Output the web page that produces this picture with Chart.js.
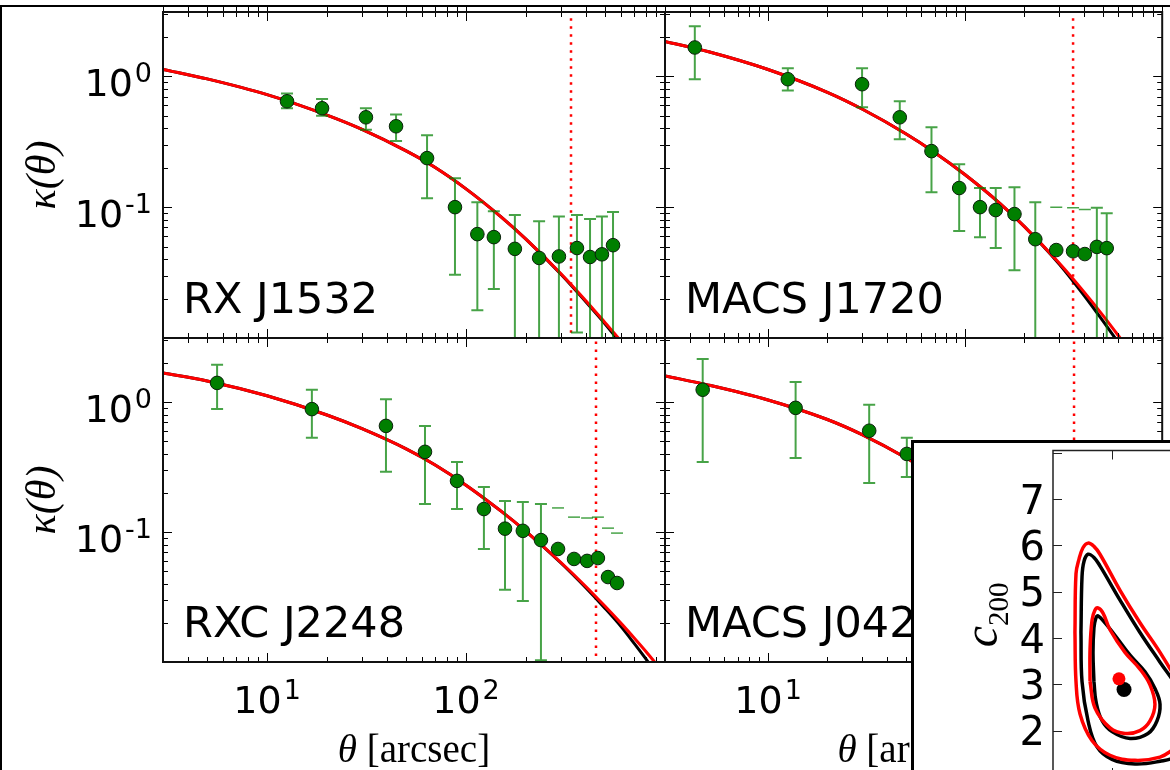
<!DOCTYPE html>
<html>
<head>
<meta charset="utf-8">
<script src="https://cdn.jsdelivr.net/npm/chart.js@4.4.0/dist/chart.umd.min.js"></script>
<style>
  html, body { margin: 0; padding: 0; background: #fff; width: 1170px; height: 770px; overflow: hidden; }
  #frame { position: absolute; left: 0; top: 5px; width: 1300px; height: 900px; border-top: 2px solid #000; border-left: 2px solid #000; }
  canvas { position: absolute; left: 0; top: 0; }
  #insetBox { position: absolute; left: 911px; top: 440px; width: 500px; height: 500px; background: #fff; border: 3px solid #000; }
  #inset { left: 914px; top: 443px; }
</style>
</head>
<body>
<div id="frame"></div>
<canvas id="rx1532" width="1170" height="770"></canvas>
<canvas id="macs1720" width="1170" height="770"></canvas>
<canvas id="rxc2248" width="1170" height="770"></canvas>
<canvas id="macs0429" width="1170" height="770"></canvas>
<div id="insetBox"></div>
<canvas id="inset" width="400" height="400"></canvas>
<script>
// kappa profiles: data points, upper / lower error, model curves (black & red), dotted radius
const modelTheta = [3, 5, 10, 20, 30, 50, 70, 100, 150, 200, 300, 400, 500, 600, 700, 800, 1000];

// RX J1532
const thetaRX1532   = [12.6, 18.9, 31.4, 44.5, 63.7, 88.0, 114, 138, 176, 233, 293, 361, 420, 482, 548];
const kappaRX1532   = [0.644, 0.57, 0.486, 0.415, 0.237, 0.100, 0.0622, 0.059, 0.048, 0.0409, 0.042, 0.0487, 0.0416, 0.0436, 0.0512];
const kappaHiRX1532 = [0.74, 0.67, 0.57, 0.51, 0.355, 0.166, 0.109, 0.093, 0.087, 0.078, 0.085, 0.087, 0.081, 0.085, 0.092];
const kappaLoRX1532 = [0.57, 0.50, 0.39, 0.32, 0.117, 0.0304, 0.0163, 0.0237, 0.001, 0.001, 0.001, 0.011, 0.001, 0.001, 0.001];
const modelRedRX1532   = [1.13, 0.955, 0.724, 0.505, 0.393, 0.269, 0.201, 0.138, 0.0842, 0.0569, 0.0310, 0.0193, 0.0131, 0.0095, 0.0071, 0.0054, 0.0035];
const modelBlackRX1532 = [1.13, 0.955, 0.724, 0.505, 0.393, 0.269, 0.201, 0.138, 0.0842, 0.0569, 0.0307, 0.0189, 0.0128, 0.0091, 0.0068, 0.0052, 0.0033];
const radiusRX1532 = 337;

// MACS J1720
const thetaMACS1720   = [4.25, 12.6, 30.0, 46.6, 67.5, 93.3, 119, 143, 178, 227, 290, 353, 405, 466, 523];
const kappaMACS1720   = [1.66, 0.95, 0.87, 0.486, 0.268, 0.140, 0.100, 0.095, 0.0885, 0.0569, 0.047, 0.046, 0.0438, 0.0497, 0.0486];
const kappaHiMACS1720 = [2.41, 1.15, 1.15, 0.645, 0.408, 0.213, 0.140, 0.140, 0.142, 0.109, 0.100, 0.099, 0.096, 0.099, 0.090];
const kappaLoMACS1720 = [0.95, 0.78, 0.58, 0.33, 0.13, 0.0658, 0.059, 0.0487, 0.033, 0.001, null, null, null, 0.001, 0.001];
const modelRedMACS1720   = [1.85, 1.54, 1.127, 0.754, 0.562, 0.364, 0.262, 0.177, 0.107, 0.071, 0.0374, 0.0226, 0.0149, 0.0104, 0.0076, 0.0058, 0.0036];
const modelBlackMACS1720 = [1.85, 1.54, 1.127, 0.754, 0.562, 0.364, 0.262, 0.177, 0.107, 0.071, 0.0368, 0.0213, 0.0135, 0.0092, 0.0066, 0.0049, 0.0030];
const radiusMACS1720 = 353;

// RXC J2248
const thetaRXC2248   = [5.61, 16.8, 39.6, 62.2, 90.1, 123, 157, 193, 238, 290, 349, 406, 460, 517, 574];
const kappaRXC2248   = [1.40, 0.88, 0.654, 0.413, 0.247, 0.150, 0.106, 0.102, 0.0866, 0.074, 0.062, 0.0599, 0.063, 0.045, 0.0405];
const kappaHiRXC2248 = [1.93, 1.24, 1.05, 0.654, 0.345, 0.222, 0.173, 0.170, 0.164, 0.153, 0.130, 0.128, 0.130, 0.107, 0.098];
const kappaLoRXC2248 = [0.88, 0.53, 0.29, 0.164, 0.150, 0.074, 0.036, 0.0295, 0.0103, null, null, null, null, null, null];
const modelRedRXC2248   = [1.67, 1.449, 1.114, 0.793, 0.622, 0.435, 0.327, 0.229, 0.1445, 0.101, 0.0582, 0.0381, 0.0268, 0.0199, 0.0153, 0.0121, 0.0080];
const modelBlackRXC2248 = [1.67, 1.449, 1.114, 0.793, 0.622, 0.435, 0.327, 0.229, 0.1445, 0.101, 0.0577, 0.0372, 0.0258, 0.0188, 0.0139, 0.0106, 0.0066];
const radiusRXC2248 = 450;

// MACS J0429 (mostly behind the inset)
const thetaMACS0429   = [4.66, 13.8, 32.6, 50.6];
const kappaMACS0429   = [1.24, 0.90, 0.60, 0.398];
const kappaHiMACS0429 = [2.14, 1.42, 0.95, 0.53];
const kappaLoMACS0429 = [0.345, 0.37, 0.238, 0.265];
const modelThetaMACS0429 = [3, 5, 10, 20, 30, 50, 70];
const modelRedMACS0429   = [1.585, 1.346, 1.035, 0.732, 0.560, 0.372, 0.272];
const modelBlackMACS0429 = [1.585, 1.346, 1.035, 0.732, 0.560, 0.372, 0.272];
const radiusMACS0429 = 357;

// axis ticks
const decadesX = [10, 100];
const decadesY = [0.1, 1];
const cTicks = [2, 3, 4, 5, 6, 7];

// inset: confidence contours in (M, c200), black and red fits
const outerRed = [[0.686, 4.12], [0.695, 5.39], [0.72, 5.70], [0.754, 5.95], [0.797, 6.05], [0.847, 5.98], [0.898, 5.81],
  [1.068, 5.03], [1.237, 4.33], [1.407, 3.69], [1.59, 2.90], [1.70, 2.30], [1.68, 1.85], [1.534, 1.62], [1.407, 1.43],
  [1.195, 1.36], [0.983, 1.47], [0.83, 1.79], [0.729, 2.36], [0.695, 3.06], [0.686, 4.12]];
const outerBlack = [[0.737, 4.12], [0.746, 5.33], [0.763, 5.66], [0.797, 5.81], [0.847, 5.74], [0.898, 5.56],
  [1.068, 4.82], [1.237, 4.12], [1.407, 3.48], [1.55, 2.95], [1.68, 2.30], [1.70, 1.80], [1.55, 1.45], [1.407, 1.34],
  [1.195, 1.28], [1.0, 1.38], [0.873, 1.65], [0.797, 2.21], [0.746, 3.06], [0.737, 4.12]];
const innerRed = [[0.814, 3.06], [0.814, 3.76], [0.831, 4.39], [0.855, 4.60], [0.881, 4.65], [0.924, 4.54], [0.983, 4.18],
  [1.11, 3.69], [1.237, 3.33], [1.322, 2.99], [1.364, 2.57], [1.322, 2.21], [1.237, 2.00], [1.11, 1.94], [0.983, 2.06],
  [0.856, 2.49], [0.814, 3.06]];
const innerBlack = [[0.847, 3.06], [0.839, 3.69], [0.847, 4.22], [0.862, 4.42], [0.881, 4.48], [0.941, 4.33], [1.025, 4.06],
  [1.153, 3.63], [1.28, 3.27], [1.364, 2.91], [1.407, 2.57], [1.381, 2.21], [1.305, 1.94], [1.153, 1.83], [1.0, 1.98],
  [0.915, 2.22], [0.865, 2.62], [0.847, 3.06]];
const bestRed = [1.059, 3.12];
const bestBlack = [1.102, 2.89];

const RED = '#ff0000';
const GREEN = '#007f00';
const ERR_GREEN = 'rgba(0, 128, 0, 0.72)';
const SANS = '"DejaVu Sans"';
const SERIF = '"Liberation Serif"';

Chart.defaults.animation = false;
Chart.defaults.responsive = false;
Chart.defaults.devicePixelRatio = 1;
Chart.defaults.events = [];
Chart.defaults.plugins.legend.display = false;
Chart.defaults.plugins.tooltip.enabled = false;

const zip = (xs, ys) => xs.map((x, i) => ({ x, y: ys[i] }));

function logTicks(min, max) {
  const out = [];
  for (let e = Math.floor(Math.log10(min)); e <= Math.ceil(Math.log10(max)); e++) {
    for (let k = 1; k < 10; k++) {
      const v = k * Math.pow(10, e);
      if (v >= min * 0.999 && v <= max * 1.001) out.push({ v, major: k === 1 });
    }
  }
  return out;
}

// "10" with a raised exponent
function powerLabel(ctx, exp, x, y, align) {
  ctx.font = '38px ' + SANS;
  const wb = ctx.measureText('10').width;
  ctx.font = '27px ' + SANS;
  const we = ctx.measureText(exp).width;
  const total = wb + 2 + we;
  const x0 = align === 'right' ? x - total : x - total / 2;
  ctx.textAlign = 'left';
  ctx.textBaseline = 'alphabetic';
  ctx.font = '38px ' + SANS;
  ctx.fillText('10', x0, y);
  ctx.font = '27px ' + SANS;
  ctx.fillText(exp, x0 + wb + 2, y - 14);
}

// error bars under the markers; null lower value = only the upper cap
const errorBars = {
  id: 'errorBars',
  beforeDatasetDraw(chart, args) {
    const ds = chart.data.datasets[args.index];
    if (!ds.errHi) return;
    const { ctx, chartArea: a, scales: { x, y } } = chart;
    ctx.save();
    ctx.beginPath();
    ctx.rect(a.left, a.top, a.right - a.left, a.bottom - a.top);
    ctx.clip();
    ctx.strokeStyle = ERR_GREEN;
    ds.data.forEach((p, i) => {
      const px = x.getPixelForValue(p.x);
      const yHi = y.getPixelForValue(ds.errHi[i]);
      const lo = ds.errLo[i];
      ctx.beginPath();
      if (lo === null) {
        ctx.lineWidth = 1.5;
        ctx.moveTo(px - 6, yHi); ctx.lineTo(px + 6, yHi);
      } else {
        ctx.lineWidth = 2;
        const yLo = y.getPixelForValue(lo);
        ctx.moveTo(px - 6, yHi); ctx.lineTo(px + 6, yHi);
        ctx.moveTo(px, yHi); ctx.lineTo(px, yLo);
        ctx.moveTo(px - 6, yLo); ctx.lineTo(px + 6, yLo);
      }
      ctx.stroke();
    });
    ctx.restore();
  }
};
Chart.register(errorBars);

// spines, inward log ticks, tick labels, axis titles and cluster name
const panelFrame = {
  id: 'panelFrame',
  afterDraw(chart, args, o) {
    const { ctx, chartArea: a, scales: { x, y } } = chart;
    ctx.save();
    ctx.strokeStyle = '#000';
    ctx.lineWidth = 1;
    ctx.beginPath();
    logTicks(x.min, x.max).forEach(t => {
      const px = Math.round(x.getPixelForValue(t.v)) + 0.5;
      const len = t.major ? 9 : 5;
      ctx.moveTo(px, a.top); ctx.lineTo(px, a.top + len);
      ctx.moveTo(px, a.bottom); ctx.lineTo(px, a.bottom - len);
      if (o.ticksAbove) { ctx.moveTo(px, a.top); ctx.lineTo(px, a.top - 5); }
    });
    logTicks(y.min, y.max).forEach(t => {
      const py = Math.round(y.getPixelForValue(t.v)) + 0.5;
      const len = t.major ? 9 : 5;
      ctx.moveTo(a.left, py); ctx.lineTo(a.left + len, py);
      ctx.moveTo(a.right, py); ctx.lineTo(a.right - len, py);
    });
    ctx.stroke();
    ctx.lineWidth = 2;
    ctx.strokeStyle = '#111';
    ctx.strokeRect(a.left, a.top, a.right - a.left, a.bottom - a.top);

    ctx.fillStyle = '#000';
    ctx.font = '43px ' + SANS;
    ctx.textAlign = 'left';
    ctx.textBaseline = 'alphabetic';
    ctx.fillText(o.name, a.left + 20, a.bottom - 25);

    if (o.yLabels) {
      decadesY.forEach(v => {
        const py = y.getPixelForValue(v);
        powerLabel(ctx, String(Math.round(Math.log10(v))), a.left - 11, py + 20, 'right');
      });
      ctx.save();
      ctx.translate(55, (a.top + a.bottom) / 2);
      ctx.rotate(-Math.PI / 2);
      ctx.font = 'italic 42px ' + SERIF;
      ctx.textAlign = 'center';
      ctx.fillText('κ(θ)', 0, 0);
      ctx.restore();
    }
    if (o.xLabels) {
      decadesX.forEach(v => {
        const px = x.getPixelForValue(v);
        powerLabel(ctx, String(Math.round(Math.log10(v))), px, 713, 'center');
      });
      ctx.font = 'italic 39px ' + SERIF;
      const wt = ctx.measureText('θ').width;
      ctx.font = '39px ' + SERIF;
      const wr = ctx.measureText(' [arcsec]').width;
      const x0 = (a.left + a.right) / 2 - (wt + wr) / 2;
      ctx.textAlign = 'left';
      ctx.font = 'italic 39px ' + SERIF;
      ctx.fillText('θ', x0, 762);
      ctx.font = '39px ' + SERIF;
      ctx.fillText(' [arcsec]', x0 + wt, 762);
    }
    ctx.restore();
  }
};

function makePanel(id, area, p) {
  return new Chart(document.getElementById(id), {
    type: 'line',
    data: {
      datasets: [
        { data: [{ x: p.radius, y: 1e-3 }, { x: p.radius, y: 1e2 }], borderColor: RED, borderWidth: 2.5,
          borderDash: [2.5, 5.5], pointRadius: 0, order: 4 },
        { data: zip(p.modelTheta, p.black), borderColor: '#000', borderWidth: 3, pointRadius: 0,
          cubicInterpolationMode: 'monotone', order: 3 },
        { data: zip(p.modelTheta, p.red), borderColor: RED, borderWidth: 3, pointRadius: 0,
          cubicInterpolationMode: 'monotone', order: 2 },
        { data: zip(p.theta, p.kappa), showLine: false, pointRadius: 6.8, pointBackgroundColor: GREEN,
          pointBorderColor: '#0b1f0b', pointBorderWidth: 1, errHi: p.hi, errLo: p.lo, order: 1 }
      ]
    },
    options: {
      layout: { padding: { left: area[0], top: area[1], right: 1170 - area[2], bottom: 770 - area[3] } },
      scales: {
        x: { type: 'logarithmic', min: 3, max: 1000, display: false },
        y: { type: 'logarithmic', min: 0.01, max: 3.1, display: false }
      },
      plugins: { panelFrame: p.frame }
    },
    plugins: [panelFrame]
  });
}

makePanel('rx1532', [163, 12, 665, 338], {
  theta: thetaRX1532, kappa: kappaRX1532, hi: kappaHiRX1532, lo: kappaLoRX1532,
  modelTheta, red: modelRedRX1532, black: modelBlackRX1532, radius: radiusRX1532,
  frame: { name: 'RX J1532', yLabels: true, xLabels: false, ticksAbove: true }
});
makePanel('macs1720', [665, 12, 1168, 338], {
  theta: thetaMACS1720, kappa: kappaMACS1720, hi: kappaHiMACS1720, lo: kappaLoMACS1720,
  modelTheta, red: modelRedMACS1720, black: modelBlackMACS1720, radius: radiusMACS1720,
  frame: { name: 'MACS J1720', yLabels: false, xLabels: false, ticksAbove: true }
});
makePanel('rxc2248', [163, 338, 665, 662], {
  theta: thetaRXC2248, kappa: kappaRXC2248, hi: kappaHiRXC2248, lo: kappaLoRXC2248,
  modelTheta, red: modelRedRXC2248, black: modelBlackRXC2248, radius: radiusRXC2248,
  frame: { name: 'RXC J2248', yLabels: true, xLabels: true, ticksAbove: false }
});
makePanel('macs0429', [665, 338, 1168, 662], {
  theta: thetaMACS0429, kappa: kappaMACS0429, hi: kappaHiMACS0429, lo: kappaLoMACS0429,
  modelTheta: modelThetaMACS0429, red: modelRedMACS0429, black: modelBlackMACS0429, radius: radiusMACS0429,
  frame: { name: 'MACS J0429', yLabels: false, xLabels: true, ticksAbove: false }
});

// inset axes frame and c200 label
const insetFrame = {
  id: 'insetFrame',
  afterDraw(chart) {
    const { ctx, chartArea: a, scales: { x, y } } = chart;
    ctx.save();
    ctx.strokeStyle = '#222';
    ctx.lineWidth = 1.5;
    ctx.strokeRect(a.left, a.top, a.right - a.left, a.bottom - a.top);
    ctx.lineWidth = 1;
    ctx.beginPath();
    for (let c = 2; c <= 8; c++) {
      const py = Math.round(y.getPixelForValue(c)) + 0.5;
      ctx.moveTo(a.left, py); ctx.lineTo(a.left + 9, py);
    }
    [1.0, 1.5, 2.0].forEach(m => {
      const px = Math.round(x.getPixelForValue(m)) + 0.5;
      ctx.moveTo(px, a.top); ctx.lineTo(px, a.top + 9);
      ctx.moveTo(px, a.bottom); ctx.lineTo(px, a.bottom - 9);
    });
    ctx.stroke();

    ctx.fillStyle = '#000';
    ctx.font = '40px ' + SANS;
    ctx.textAlign = 'right';
    ctx.textBaseline = 'alphabetic';
    cTicks.forEach(c => ctx.fillText(String(c), a.left - 8, y.getPixelForValue(c) + 14.5));

    ctx.save();
    ctx.translate(a.left - 56, y.getPixelForValue(3.8));
    ctx.rotate(-Math.PI / 2);
    ctx.textAlign = 'left';
    ctx.font = 'italic 48px ' + SERIF;
    ctx.fillText('c', 0, 0);
    const wc = ctx.measureText('c').width;
    ctx.font = '29px ' + SERIF;
    ctx.fillText('200', wc, 11);
    ctx.restore();
    ctx.restore();
  }
};

const loop = (pts, color, order) => ({
  data: pts.map(([m, c]) => ({ x: m, y: c })), borderColor: color, borderWidth: 3.5,
  pointRadius: 0, tension: 0.4, order
});

new Chart(document.getElementById('inset'), {
  type: 'line',
  data: {
    datasets: [
      loop(outerBlack, '#000', 6),
      loop(innerBlack, '#000', 5),
      loop(outerRed, RED, 4),
      loop(innerRed, RED, 3),
      { data: [{ x: bestBlack[0], y: bestBlack[1] }], showLine: false, pointRadius: 7.5,
        pointBackgroundColor: '#000', pointBorderColor: '#000', pointBorderWidth: 0, order: 2 },
      { data: [{ x: bestRed[0], y: bestRed[1] }], showLine: false, pointRadius: 6.5,
        pointBackgroundColor: RED, pointBorderColor: RED, pointBorderWidth: 0, order: 1 }
    ]
  },
  options: {
    layout: { padding: { left: 139, top: 2, right: 25, bottom: 66 } },
    scales: {
      x: { type: 'linear', min: 0.5, max: 2.5, display: false },
      y: { type: 'linear', min: 1, max: 8.05, display: false }
    }
  },
  plugins: [insetFrame]
});
</script>
</body>
</html>
